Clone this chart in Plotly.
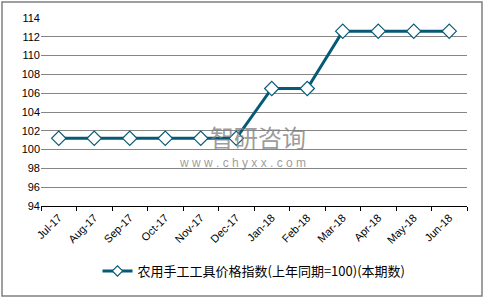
import plotly.graph_objects as go

categories = ["Jul-17", "Aug-17", "Sep-17", "Oct-17", "Nov-17", "Dec-17",
              "Jan-18", "Feb-18", "Mar-18", "Apr-18", "May-18", "Jun-18"]
values = [101.2, 101.2, 101.2, 101.2, 101.2, 101.2,
          106.5, 106.5, 112.6, 112.6, 112.6, 112.6]
series_name = "农用手工工具价格指数(上年同期=100)(本期数)"
y_ticks = list(range(94, 115, 2))

W, H = 485, 299
L, R, T, B = 41, 18, 18, 93
pw, ph = W - L - R, H - T - B

def px2x(px):
    return (px - L) / pw

def py2y(py):
    return (H - B - py) / ph

color = "#065A76"

fig = go.Figure()
fig.add_trace(go.Scatter(
    x=categories, y=values, name=series_name, mode="lines+markers",
    line=dict(color=color, width=3),
    marker=dict(symbol="diamond", size=11, color="white",
                line=dict(color=color, width=1.2)),
    showlegend=False,
))
# legend entry with a smaller marker, as in the reference
fig.add_trace(go.Scatter(
    x=[None], y=[None], name=series_name, mode="lines+markers",
    line=dict(color=color, width=3),
    marker=dict(symbol="diamond", size=8, color="white",
                line=dict(color=color, width=1.2)),
    showlegend=True,
))

fig.update_layout(
    width=W, height=H,
    margin=dict(l=L, r=R, t=T, b=B),
    paper_bgcolor="white", plot_bgcolor="white",
    font=dict(family="Liberation Sans, Arial, sans-serif", size=11, color="#000000"),
    showlegend=True,
    legend=dict(orientation="h", x=0.5, xanchor="center", y=py2y(271), yanchor="middle",
                font=dict(family="Noto Sans CJK SC", size=13, color="#000000"),
                bgcolor="rgba(0,0,0,0)"),
    xaxis=dict(type="category", tickson="boundaries", ticks="outside", ticklen=4,
               tickcolor="#000000", showline=True, linecolor="#000000", linewidth=1,
               showgrid=False, tickangle=-45, range=[-0.5, 11.5],
               tickfont=dict(size=11, color="#000000")),
    yaxis=dict(range=[94, 114], tickvals=y_ticks, showgrid=True, gridcolor="#868686",
               gridwidth=1, showline=False, zeroline=False, ticks="",
               tickfont=dict(size=11, color="#000000")),
    shapes=[dict(type="rect", xref="paper", yref="paper",
                 x0=px2x(2), x1=px2x(482), y0=py2y(296), y1=py2y(2),
                 line=dict(color="#808080", width=1.5), fillcolor="rgba(0,0,0,0)")],
    annotations=[
        dict(text="智研咨询", xref="paper", yref="paper", x=px2x(258), y=py2y(136),
             yanchor="middle", showarrow=False,
             font=dict(family="Noto Sans CJK SC", size=24, color="rgba(130,130,130,0.8)")),
        dict(text="w w w . c h y x x . c o m", xref="paper", yref="paper", x=px2x(242), y=py2y(163),
             yanchor="middle", showarrow=False,
             font=dict(family="Liberation Sans", size=12, color="rgba(130,130,130,0.8)")),
    ],
)

fig.write_html("out.html")
